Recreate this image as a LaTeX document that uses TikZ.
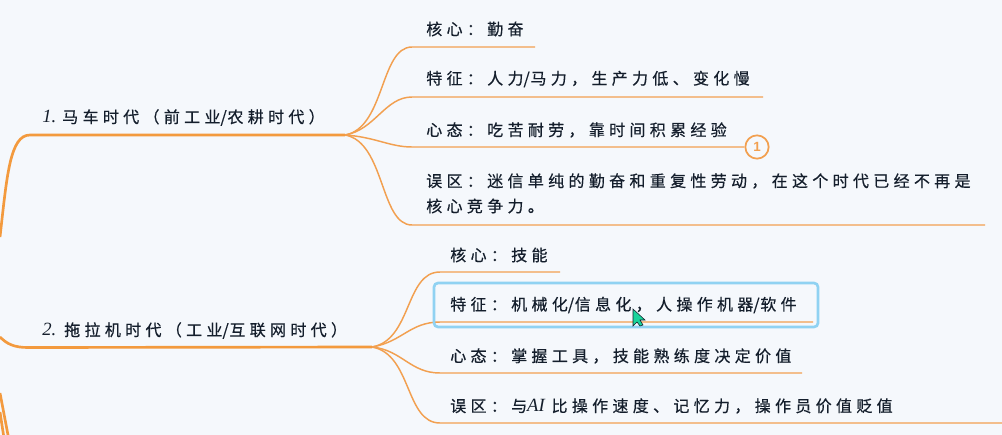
\documentclass[tikz,border=0pt]{standalone}
\usepackage{fontspec}
\setmainfont{Noto Sans CJK SC}[LetterSpace=27,FakeBold=0.5]
\newfontfamily\circfont{Liberation Sans}
\newfontfamily\ltn{Liberation Serif}
\newcommand{\slh}{{\addfontfeatures{LetterSpace=0}/}\kern0.5pt\relax}
\newcommand{\itl}[1]{{\ltn\itshape\fontsize{14pt}{14pt}\selectfont #1}}
\definecolor{bgc}{HTML}{F5F8FC}
\definecolor{org}{HTML}{F39A3E}
\definecolor{leafc}{HTML}{F2A050}
\definecolor{inkc}{HTML}{141E2C}
\definecolor{selc}{HTML}{90D2F2}
\definecolor{curc}{HTML}{19D39B}
\tikzset{
  lbl/.style={anchor=west,inner sep=0pt,text=inkc,font=\fontsize{12pt}{12pt}\selectfont},
  trunk/.style={draw=org,line width=2pt},
  leaf/.style={draw=leafc,line width=1.1pt},
}
\begin{document}
\begin{tikzpicture}[x=0.75pt,y=-0.75pt]
\useasboundingbox (0,0) rectangle (1002,435);
\fill[bgc] (0,0) rectangle (1002,435);
% junctions
\coordinate (ja) at (345,135);
\coordinate (jb) at (372,347);
\coordinate (ra) at (0,237);
\coordinate (rb) at (0,337);
% trunks
\draw[trunk] (ra) .. controls (7,175) and (10,135) .. (30,135) -- (ja);
\draw[trunk] (rb) .. controls (7,344) and (14,347.5) .. (28,347.5) -- (jb);
\draw[trunk] (0,393) -- (8,435);
\draw[trunk] (0,412) -- (3.5,435);
% first group
\coordinate (a1) at (412,47);\coordinate (a1e) at (535,47);
\coordinate (a2) at (412,97);\coordinate (a2e) at (763,97);
\coordinate (a3) at (412,147);
\coordinate (a4) at (412,225);\coordinate (a4e) at (985,225);
\node[draw=leafc,line width=1.3pt,circle,minimum size=17.5pt,inner sep=0pt,fill=bgc,font=\circfont\bfseries\fontsize{10pt}{10pt}\selectfont,text=leafc] (cn) at (757,147) {1};
\draw[leaf] (ja) .. controls (385,128) and (380,47) .. (a1) -- (a1e);
\draw[leaf] (ja) .. controls (375,130) and (385,97) .. (a2) -- (a2e);
\draw[leaf] (ja) .. controls (375,137) and (390,147) .. (a3) -- (cn);
\draw[leaf] (ja) .. controls (385,142) and (380,225) .. (a4) -- (a4e);
\node[lbl] (t1) at (42,117.5) {\itl{1.}\kern4.5pt 马车时代（前工业\slh 农耕时代）};
\node[lbl] (a1t) at (426,29) {核心：勤奋};
\node[lbl] (a2t) at (426,79) {特征：人力\slh 马力，生产力低、变化慢};
\node[lbl] (a3t) at (426,130) {心态：吃苦耐劳，靠时间积累经验};
\node[lbl] (a4t) at (426,181) {误区：迷信单纯的勤奋和重复性劳动，在这个时代已经不再是};
\node[lbl] (a4u) at (426,206) {核心竞争力。};
% second group
\coordinate (b1) at (440,272);\coordinate (b1e) at (560,272);
\coordinate (b2) at (440,322);\coordinate (b2e) at (813,322);
\coordinate (b3) at (440,373);\coordinate (b3e) at (802,373);
\coordinate (b4) at (440,423);\coordinate (b4e) at (1002,423);
\draw[leaf] (jb) .. controls (412,340) and (405,272) .. (b1) -- (b1e);
\draw[leaf] (jb) .. controls (402,342) and (410,322) .. (b2) -- (b2e);
\draw[leaf] (jb) .. controls (402,350) and (410,373) .. (b3) -- (b3e);
\draw[leaf] (jb) .. controls (412,354) and (405,423) .. (b4) -- (b4e);
\node[lbl] (t2) at (42,330.5) {\itl{2.}\kern6pt 拖拉机时代（工业\slh 互联网时代）};
\node[lbl] (b1t) at (450,255) {核心：技能};
\node[lbl] (b2t) at (450,305) {特征：机械化\slh 信息化，人操作机器\slh 软件};
\node[lbl] (b3t) at (450,356) {心态：掌握工具，技能熟练度决定价值};
\node[lbl] (b4t) at (450,406) {误区：与{\ltn\itshape\fontsize{14pt}{14pt}\selectfont AI}\kern5pt 比操作速度、记忆力，操作员价值贬值};
\draw[draw=selc,line width=2pt,rounded corners=3pt] (434,283) rectangle (818,327);
\fill[curc,draw=inkc,line width=0.4pt] (633,309) -- (633,326) -- (637,322) -- (640,326) -- (643,325) -- (640,320) -- (645,320) -- cycle;
\end{tikzpicture}
\end{document}
